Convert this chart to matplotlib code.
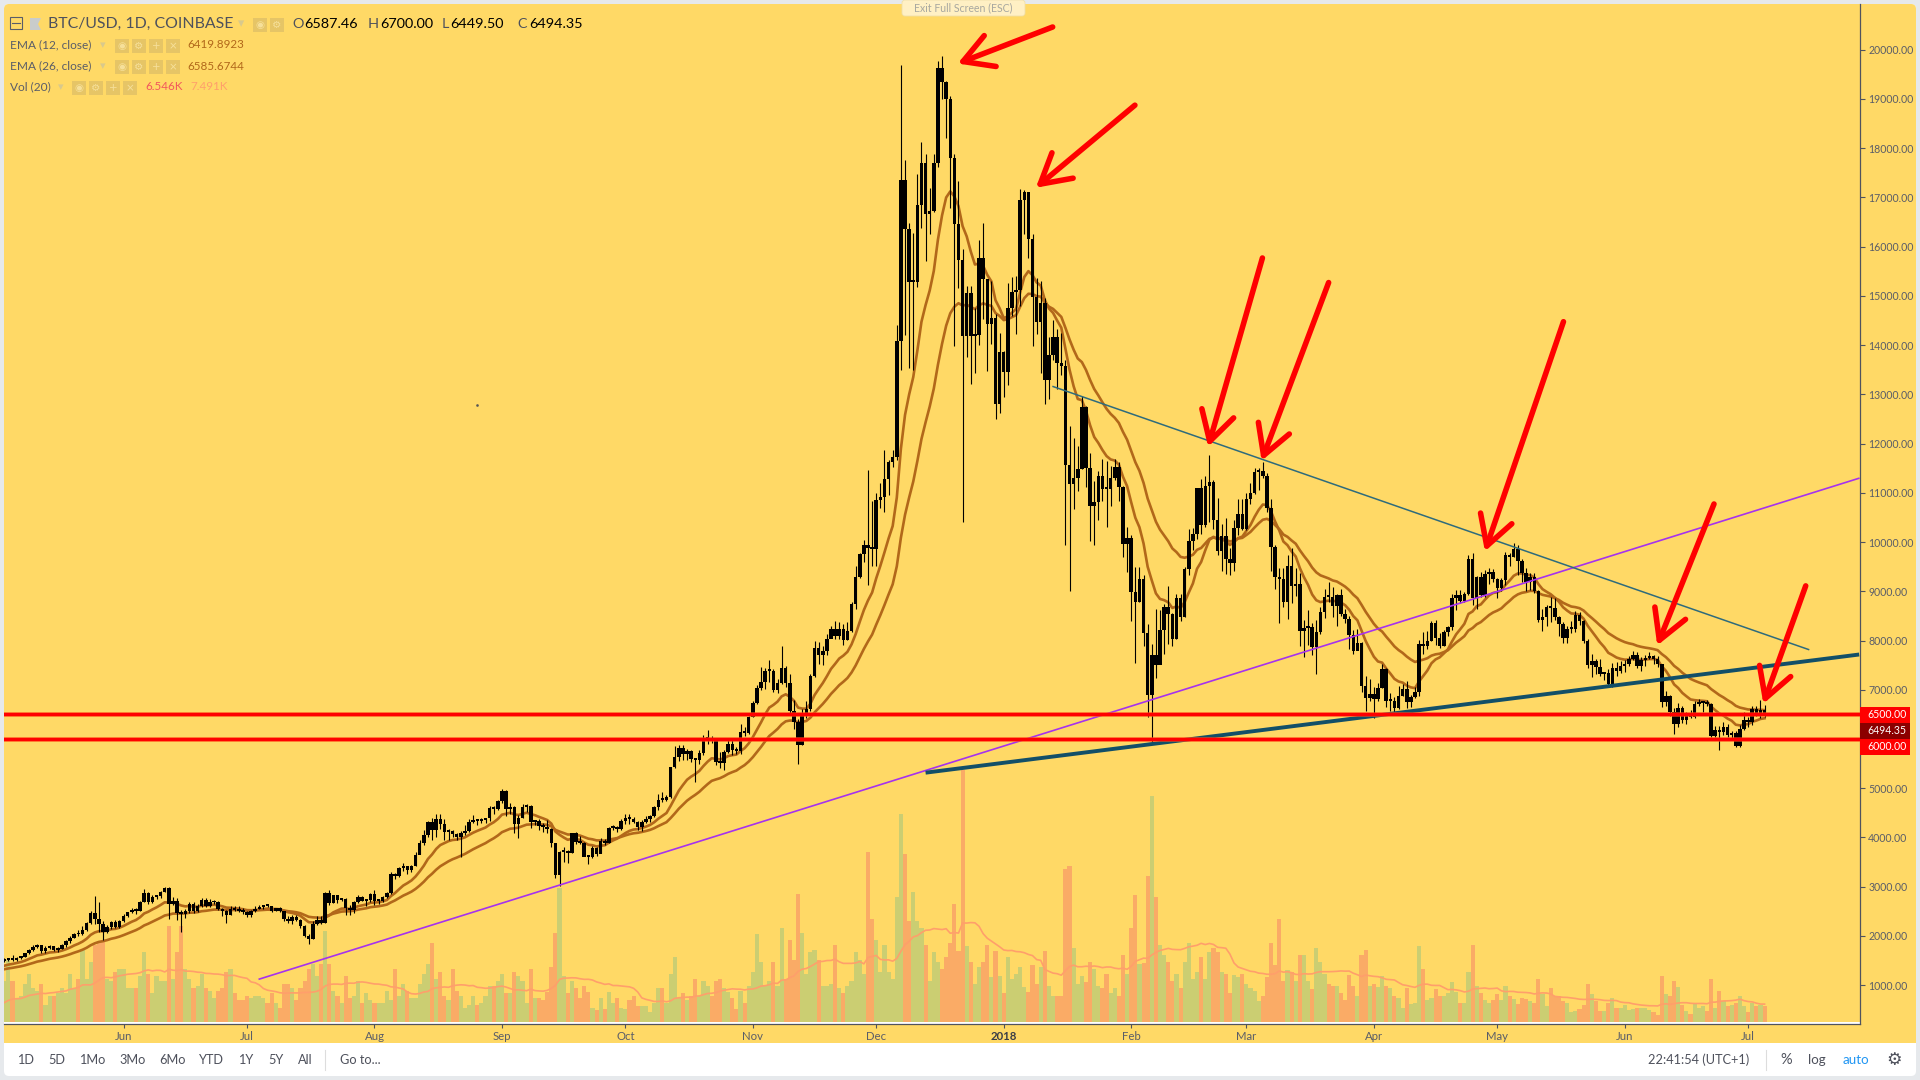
import numpy as np
import pandas as pd
import matplotlib
matplotlib.use("Agg")
import matplotlib.pyplot as plt
import matplotlib.dates as mdates
from matplotlib.patches import Rectangle, FancyBboxPatch, Polygon

plt.rcParams['font.family'] = ['Lato', 'DejaVu Sans']

# daily candles, 2017-05-03 to 2018-07-05, one row per calendar month
close = [
    1510,1540,1510,1560,1570,1650,1720,1770,1810,1700,1760,1790,1710,1740,1810,1890,1960,2040,2030,2120,2260,2460,2340,2240,2080,2190,2280,2190,2300,
    2400,2480,2530,2510,2690,2880,2680,2800,2810,2900,2980,2650,2720,2470,2440,2500,2650,2510,2600,2740,2610,2680,2690,2540,2500,2430,2550,2520,2510,2480,
    2420,2510,2550,2590,2610,2600,2500,2560,2500,2350,2310,2390,2320,2210,1990,1930,2240,2320,2270,2870,2670,2830,2730,2760,2560,2520,2680,2790,2720,2730,2860,
    2720,2720,2800,2870,3250,3220,3380,3430,3340,3430,3650,3880,4060,4320,4160,4380,4280,4110,4140,4080,4000,4090,4140,4320,4350,4340,4350,4390,4590,4570,4740,
    4950,4580,4620,4270,4400,4610,4630,4320,4330,4230,4220,4170,3880,3230,3700,3700,3690,4090,3910,3880,3610,3600,3790,3670,3930,3880,4190,4190,4180,4340,
    4400,4380,4310,4220,4320,4370,4440,4610,4770,4760,4820,5430,5640,5810,5700,5760,5590,5570,5710,6000,6020,5990,5530,5520,5740,5900,5770,5750,6150,6130,6450,
    6740,7030,7160,7390,7390,6990,7130,7450,7140,6570,6340,5870,6510,6600,7280,7850,7700,7790,8040,8240,8090,8230,8020,8200,8750,9280,9760,9930,9880,9860,
    10860,10906,11290,11620,11720,14080,17360,16350,15280,15290,16850,17700,16670,16730,17700,19630,19340,19000,17800,16460,15730,14190,15060,14190,14200,15770,15340,14430,14560,12810,13850,
    13460,14760,15080,15120,16950,17100,16150,14970,14460,14860,13290,13800,14170,13630,13570,11570,11170,11300,11490,12750,11500,10740,10820,11350,11080,11070,11300,11530,11110,9970,10090,
    8990,8780,9240,8160,6890,7700,7510,8220,8690,8530,8030,8870,8480,9460,10030,10170,11100,10350,11130,11220,10440,9810,10130,9660,9580,10290,10560,10260,
    10880,10990,11430,11440,11350,10700,9890,9280,9250,8780,9520,9100,9150,8190,8260,8270,7860,8180,8570,8890,8880,8700,8930,8530,8430,8120,7780,7940,7070,6830,6920,
    6810,7040,7430,6770,6770,6620,6880,7020,6750,6850,6950,7920,7880,8000,8350,8050,7890,8170,8280,8860,8920,8800,8940,9650,8870,9280,8930,9350,9400,9240,
    9070,9220,9740,9700,9850,9620,9370,9180,9300,9010,8410,8480,8690,8670,8480,8340,8060,8230,8230,8520,8400,8000,7510,7580,7460,7330,7350,7110,7450,7380,7480,
    7520,7630,7700,7490,7610,7650,7680,7620,7530,6750,6880,6550,6300,6630,6390,6490,6450,6710,6730,6750,6720,6060,6180,6150,6240,6080,6130,5850,6200,6390,
    6350,6610,6510,6587.46,6494.35,
]
high = [
    1550,1560,1610,1580,1590,1660,1730,1810,1840,1810,1790,1810,1800,1770,1840,1910,2000,2060,2120,2200,2290,2500,2810,2690,2300,2230,2300,2320,2330,
    2450,2490,2570,2560,2700,2950,2890,2830,2840,2920,3000,2990,2790,2780,2520,2540,2680,2680,2640,2770,2780,2750,2740,2700,2570,2530,2600,2600,2600,2560,
    2500,2520,2600,2620,2620,2630,2610,2570,2580,2510,2400,2420,2420,2340,2230,2040,2300,2400,2400,2900,2930,2840,2840,2780,2770,2620,2710,2830,2820,2740,2880,
    2930,2760,2820,2890,3290,3280,3410,3490,3430,3450,3700,3950,4150,4340,4400,4480,4480,4370,4180,4150,4100,4130,4250,4380,4460,4370,4400,4400,4630,4640,4770,
    4980,4970,4710,4640,4450,4670,4690,4660,4360,4380,4290,4350,4190,3880,3730,3800,3750,4100,4120,4020,3900,3650,3820,3800,3980,3970,4210,4250,4240,4370,
    4470,4470,4420,4330,4350,4430,4460,4630,4880,4920,4870,5440,5850,5870,5870,5790,5770,5600,5780,6080,6190,6070,6030,5740,5780,5990,5990,5830,6300,6240,6470,
    6770,7100,7460,7450,7600,7420,7220,7880,7480,7320,6800,6400,6600,6770,7330,7990,7980,7880,8130,8300,8400,8370,8340,8380,8780,9510,9780,10050,11470,10840,
    11000,11200,11870,11660,11870,14410,19680,17750,16480,16270,17470,18120,17880,17200,17880,19770,19870,19360,19060,17880,17340,15950,15200,15200,14760,16140,16480,15340,15300,14630,14250,
    13880,15270,15380,15400,17170,17150,17100,16250,15360,15300,14960,14170,14500,14330,14240,13700,12350,12110,11950,12970,12770,11810,11240,11450,11690,11650,11550,11690,11620,11130,10300,
    10150,9500,9500,9340,8340,7930,8650,8610,8740,9100,8560,8950,8940,9500,10260,10290,11100,11280,11340,11770,11270,10900,10370,10490,9880,10440,10880,10880,
    10990,11200,11500,11500,11630,11400,10880,9950,9470,9480,9730,9880,9480,9380,8420,8620,8350,8420,8680,9050,9180,9080,8950,9050,8650,8500,8220,8240,7980,7270,7220,
    7050,7130,7520,7440,6930,6860,7070,7110,7180,6900,7050,8010,8180,8190,8400,8420,8150,8210,8300,8940,9030,9020,8990,9740,9770,9320,9390,9430,9480,9450,
    9270,9270,9790,9780,9990,9940,9650,9470,9370,9370,9020,8650,8730,8880,8860,8500,8380,8290,8390,8590,8580,8420,8030,7730,7630,7620,7370,7430,7550,7570,7590,
    7610,7680,7780,7760,7670,7700,7770,7700,7680,7530,6980,6900,6630,6730,6680,6540,6590,6780,6810,6780,6790,6730,6260,6260,6340,6300,6170,6170,6280,6540,
    6450,6680,6680,6800,6700,
]
low = [
    1470,1500,1490,1490,1540,1570,1640,1700,1750,1660,1660,1740,1690,1680,1730,1780,1860,1950,1990,2010,2110,2250,2240,2080,1915,2060,2150,2160,2170,
    2290,2390,2460,2440,2510,2680,2650,2660,2760,2780,2890,2340,2620,2320,2090,2360,2470,2470,2490,2580,2590,2590,2650,2520,2400,2270,2420,2500,2480,2440,
    2390,2390,2490,2550,2550,2590,2480,2500,2490,2300,2260,2250,2300,2170,1970,1840,1930,2230,2250,2260,2620,2660,2660,2710,2420,2430,2470,2670,2700,2610,2680,
    2620,2650,2690,2780,2860,3160,3200,3320,3250,3300,3420,3660,3840,4000,3950,4000,4170,3950,3950,4010,3950,3600,4060,4110,4300,4250,4290,4300,4340,4480,4550,
    4700,4430,4480,4100,3990,4390,4520,4200,4250,4150,4110,4090,3800,3180,3010,3500,3490,3680,3860,3870,3620,3470,3590,3620,3680,3850,3880,4150,4110,4160,
    4280,4280,4290,4160,4140,4290,4310,4420,4550,4730,4740,4810,5420,5560,5580,5580,5540,5120,5500,5670,5890,5910,5480,5410,5370,5720,5670,5700,5690,6060,6100,
    6440,6720,7000,7020,7150,6950,6940,7120,7050,6500,6200,5500,5870,6430,6560,7260,7520,7500,7700,8050,8030,8040,7900,8010,8180,8650,9270,9600,9130,9520,
    9520,10700,10600,10950,11530,11660,13500,14200,13540,13490,15180,16380,15700,16250,16700,17610,19000,18200,16790,13980,15160,10400,13750,13200,13440,14000,14530,13470,14020,12500,12630,
    12950,13180,14590,14230,14790,16250,15770,13980,14230,13430,12800,12900,13700,13100,13400,9930,9000,10670,11040,11490,11120,10030,9950,10450,10840,10300,10740,11250,10840,9700,9400,
    8400,7540,8780,7880,6440,5940,7230,7550,7720,7930,7880,8030,8400,8470,9340,9830,10060,10170,10300,10400,10260,9730,9420,9360,9340,9420,10150,10240,
    10250,10770,10980,11050,11300,10600,9410,9050,8360,8680,8430,8760,8900,7880,7670,7900,7700,7330,8140,8450,8790,8480,8290,8500,8360,7830,7730,7820,6960,6560,6780,
    6430,6780,7030,6640,6570,6510,6600,6880,6620,6660,6840,6870,7720,7820,7990,7900,7840,7880,8100,8210,8630,8760,8780,8930,8730,8650,8890,8880,9150,9180,
    8860,9000,9120,9510,9700,9340,9180,9000,9030,8960,8370,8200,8300,8370,8420,8100,7950,7950,8150,8170,8310,7950,7440,7260,7310,7270,7200,7060,7050,7280,7340,
    7360,7480,7600,7440,7380,7490,7630,7520,7460,6650,6670,6460,6110,6250,6320,6310,6420,6430,6680,6550,6680,6050,6040,5770,6080,6040,6010,5830,5830,6190,
    6250,6290,6460,6420,6449.5,
]
# volume in thousands
volume = [
    17,26,17,10,11,16,20,14,13,16,7,11,11,12,14,12,20,14,18,30,18,25,32,33,34,18,17,21,22,
    22,14,14,14,19,29,20,12,19,17,17,40,18,29,40,22,18,14,15,20,14,13,10,13,14,21,22,12,9,9,
    11,10,11,11,10,8,12,8,6,16,16,14,9,14,17,22,24,19,24,38,24,13,11,8,19,10,11,17,8,12,9,
    8,8,8,13,9,22,11,16,13,10,10,16,20,24,33,18,21,11,9,22,13,11,6,7,11,7,8,11,15,15,17,
    20,12,12,21,19,17,8,22,10,10,9,12.5,23,37,56,19,12,17,14,10,15,12.5,6,5,10,5.5,12.5,8,10,6,
    5.5,9,11,6.5,6.5,6.5,4,8,14,14,8,20,27,10,12,9,11,18,11,17,15,11,17,18,14,12.5,10,5.5,13,8,15,
    21,36.5,25,15,17,25,15,39,18,34,26,53.5,37,20,29,30,26,15,15,16,32,14,12,15,17,29,26,20,71,43,
    34,21,32,21,18,52,86.5,70,42,54,42,39,32,17,29,25,22,27,33,49,29.5,105,31.5,25,16,23,25,32,18.6,29.5,19,
    12,27,18,20,23,14.4,12.4,23.6,15.7,23,29.5,15,10.7,11,10.7,63.6,65,30.7,16,19,16.5,25,22,15,14,20,12,14,11,28,20,
    39,53,24,24.4,61,94,52,32,28,25,17,20,14,25,33,18,21,27,18,29,31,29,21,20,12,19.4,18.6,20,
    15.7,14,13,8.6,11,18.6,33,23.6,43,17,21.5,20.7,17,28,28,17,13.6,31,25,20,15.7,15,15,12,9,19.4,15,11,28,30,15,
    15.7,14.4,19,15,14,11,10,6,14,7.4,8,31.5,22,9,10,13.6,11,11,12,16.5,12.4,8,8,21,32,15,12,9,8,9,
    11.5,9,15,11,9.4,7.4,10,9.4,8.6,8,18,11.5,6.5,14,11,11,8.6,8,4,4.4,5.3,7,16,11.5,8.6,4.4,4.4,8,10,6,6,
    7,5,5.3,6,5.7,5.7,5,4,2.8,19,11.5,11,17,14.4,7,4.4,3.2,8,6,6.5,4.4,18,6,13,8.6,6.5,7,8,11,6.5,
    4,8,6.5,7,6.546,
]
# volume of the days before the chart starts, only used to seed the 20 day average
volume_before = [8,6,7,9,5,6,8,7,10,9,6,8,7,9,8,6,7,10,9]
first_open = 1490
ema12_seed = 1375
ema26_seed = 1310

price_ticks = list(range(1000, 21000, 1000))
tick_months = ['2017-06-01','2017-07-01','2017-08-01','2017-09-01','2017-10-01','2017-11-01','2017-12-01',
               '2018-01-01','2018-02-01','2018-03-01','2018-04-01','2018-05-01','2018-06-01','2018-07-01']
tick_labels = ['Jun','Jul','Aug','Sep','Oct','Nov','Dec','2018','Feb','Mar','Apr','May','Jun','Jul']
levels = [6500, 6000]

# trend lines and hand drawn arrows: days after 2017-07-01, price
purple_days, purple_price = [3, 391.9], [1124, 11294]
thin_days, thin_price = [196, 379.7], [13158, 7817]
thick_days, thick_price = [165, 392], [5316, 7716]
arrow_tail_days = [195.9, 215.9, 246.9, 263.0, 320.1, 356.7, 379.0]
arrow_tail_price = [20460, 18872, 15769, 15270, 14475, 10773, 9110]
arrow_tip_days = [172.8, 191.8, 233.7, 246.7, 301.0, 342.9, 368.7]
arrow_tip_price = [19718, 17195, 11935, 11651, 9811, 7899, 6716]


def ema(values, span, seed):
    k = 2 / (span + 1)
    out = []
    prev = seed
    for v in values:
        prev = v * k + prev * (1 - k)
        out.append(prev)
    return out


close = np.array(close, dtype=float)
high = np.array(high, dtype=float)
low = np.array(low, dtype=float)
open_ = np.concatenate([[first_open], close[:-1]])
dates = mdates.date2num(pd.date_range('2017-05-03', periods=len(close)))
vol_ma = pd.Series(volume_before + volume).rolling(20).mean().dropna().values
base_day = mdates.date2num(pd.Timestamp('2017-07-01'))

W, H = 1920, 1080
YELLOW = '#FFD966'
GREY = '#E6E9EC'
AXIS = '#50535E'
TEXT = '#5A5D68'

fig = plt.figure(figsize=(W / 100, H / 100), dpi=100, facecolor=GREY)


def px_axes(left, top, right, bottom, z):
    a = fig.add_axes([left / W, 1 - bottom / H, (right - left) / W, (bottom - top) / H], zorder=z)
    a.patch.set_visible(False)
    return a


# background panels
ui = px_axes(0, 0, W, H, 0)
ui.set_xlim(0, W)
ui.set_ylim(H, 0)
ui.axis('off')
ui.add_patch(FancyBboxPatch((4, 4), 1912, 1072, boxstyle='round,pad=0,rounding_size=5', fc='white', ec='none'))
ui.add_patch(FancyBboxPatch((4, 4), 1912, 60, boxstyle='round,pad=0,rounding_size=5', fc=YELLOW, ec='none'))
ui.add_patch(Rectangle((4, 30), 1912, 1013, fc=YELLOW, ec='none'))
ui.add_patch(Rectangle((4, 1022), 1856, 2, fc='white', ec='none'))

# volume pane
vol_ax = px_axes(4, 4, 1860, 1022, 1)
vol_colors = np.where(close >= open_, '#CBCE72', '#FAAB66')
vol_ax.bar(dates, volume, width=1.0, color=vol_colors, linewidth=0)
vol_ax.plot(dates, vol_ma, color='#FF9F6B', lw=1.2)
vol_ax.set_xlim(base_day - 59.08, base_day + 392.2)
vol_ax.set_ylim(0, 1018 / 2.4)
vol_ax.axis('off')

# price pane
ax = px_axes(4, 4, 1860, 1024, 2)
ax.set_xlim(base_day - 59.08, base_day + 392.2)
ax.set_ylim(212, 20927)
ax.plot(dates, ema(close, 12, ema12_seed), color='#B2681A', lw=1.9, zorder=2)
ax.plot(dates, ema(close, 26, ema26_seed), color='#B2681A', lw=1.9, zorder=2)
ax.vlines(dates, low, high, color='black', lw=0.8, zorder=3)
ax.bar(dates, np.maximum(np.abs(close - open_), 40), bottom=np.minimum(open_, close),
       width=0.85, color='black', linewidth=0, zorder=3)

days = np.array(purple_days) + base_day
ax.plot(days, purple_price, color='#A632EE', lw=1.2, zorder=4)
days = np.array(thin_days) + base_day
ax.plot(days, thin_price, color='#2E6B7C', lw=1.1, zorder=4)
days = np.array(thick_days) + base_day
ax.plot(days, thick_price, color='#124F68', lw=2.8, zorder=4, solid_capstyle='butt')
for lev in levels:
    ax.axhline(lev, color='#FF5A1E', lw=3.6, alpha=0.55, zorder=5)
    ax.axhline(lev, color='#FF0000', lw=2.4, zorder=5)

for i in range(len(arrow_tip_days)):
    ax.annotate('', xy=(base_day + arrow_tip_days[i], arrow_tip_price[i]),
                xytext=(base_day + arrow_tail_days[i], arrow_tail_price[i]),
                arrowprops=dict(arrowstyle='->,head_length=1.5,head_width=0.85', color='#FF0000', lw=4.0,
                                shrinkA=0, shrinkB=0, mutation_scale=14),
                annotation_clip=False, zorder=6)

ax.yaxis.tick_right()
ax.set_yticks(price_ticks)
# the 6000 tag below takes the place of its tick label
ax.set_yticklabels(['' if v == 6000 else f'{v:.2f}' for v in price_ticks], fontsize=7.6, color=TEXT)
ax.set_xticks(mdates.date2num(pd.to_datetime(tick_months)))
ax.set_xticklabels(tick_labels, fontsize=8.2, color=TEXT)
ax.tick_params(axis='y', length=3.5, width=0.8, color=AXIS, pad=2.5)
ax.tick_params(axis='x', length=3, width=0.8, color=AXIS, pad=2)
ax.get_xticklabels()[7].set_fontweight('bold')
ax.get_xticklabels()[7].set_color('#3A3D46')
for side in ['left', 'top']:
    ax.spines[side].set_visible(False)
for side in ['right', 'bottom']:
    ax.spines[side].set_color(AXIS)
    ax.spines[side].set_linewidth(0.9)

# everything on top: legend block, price tags, toolbar
top = px_axes(0, 0, W, H, 3)
top.set_xlim(0, W)
top.set_ylim(H, 0)
top.axis('off')


def label(x, y, s, size=8.2, color=TEXT, ha='left', **kw):
    top.text(x, y, s, fontsize=size, color=color, ha=ha, va='center', **kw)


def buttons(xs, y, marks):
    for x, m in zip(xs, marks):
        top.add_patch(Rectangle((x, y), 14, 14, fc='#E6C566', ec='none'))
        top.text(x + 7, y + 7, m, fontsize=7.5, color='#F6E09A', ha='center', va='center', family='DejaVu Sans')


# collapse box and symbol flag
top.add_patch(Rectangle((10, 17), 12, 12, fc='none', ec='#5A5D68', lw=0.8))
top.plot([12, 20], [23, 23], color='#5A5D68', lw=0.8)
top.add_patch(Polygon([(30, 18), (41, 18), (38, 24), (41, 30), (30, 30)], fc='#C9CCCB', ec='none'))
label(47.5, 24, 'BTC/USD, 1D, COINBASE', size=11.4, color='#4E515C')
label(238, 24, '▾', size=9, color='#D9C98C', family='DejaVu Sans')
buttons([253, 270], 18, ['◉', '⚙'])
label(292.5, 24, 'O', size=10.4, color='#4E515C')
label(304, 24, '6587.46', size=10.4, color='black')
label(368, 24, 'H', size=10.4, color='#4E515C')
label(380, 24, '6700.00', size=10.4, color='black')
label(442, 24, 'L', size=10.4, color='#4E515C')
label(450, 24, '6449.50', size=10.4, color='black')
label(517, 24, 'C', size=10.4, color='#4E515C')
label(529, 24, '6494.35', size=10.4, color='black')

label(9.5, 45, 'EMA (12, close)', size=8.6)
label(100, 45, '▾', size=8, color='#D9C98C', family='DejaVu Sans')
buttons([115, 132, 149, 166], 39, ['◉', '⚙', '+', '×'])
label(187.5, 45, '6419.8923', size=8.4, color='#B2681A')
label(9.5, 66, 'EMA (26, close)', size=8.6)
label(100, 66, '▾', size=8, color='#D9C98C', family='DejaVu Sans')
buttons([115, 132, 149, 166], 60, ['◉', '⚙', '+', '×'])
label(187.5, 66, '6585.6744', size=8.4, color='#B2681A')
label(9.5, 87, 'Vol (20)', size=8.6)
label(58, 87, '▾', size=8, color='#D9C98C', family='DejaVu Sans')
buttons([72, 89, 106, 123], 81, ['◉', '⚙', '+', '×'])
label(145, 87, '6.546K', size=8.4, color='#F2565C')
label(190, 87, '7.491K', size=8.4, color='#FF9F6B')

# exit full screen pill
top.add_patch(FancyBboxPatch((902, 0), 123, 16, boxstyle='round,pad=0,rounding_size=3', fc='#FFF0C4', ec='#F0DFA8', lw=0.6))
label(963.5, 8, 'Exit Full Screen (ESC)', size=7.6, color='#A8A8A0', ha='center')

# stray dot on the chart
top.plot([477], [405], marker='s', ms=0.8, color='#555555')

# price tags
for y0, y1, col, s in [(707, 722.7, '#FF0000', '6500.00'), (722.7, 738.7, '#8B0000', '6494.35'), (738.7, 755, '#FF0000', '6000.00')]:
    top.add_patch(Rectangle((1860, y0), 50, y1 - y0, fc=col, ec='none'))
    label(1867.5, (y0 + y1) / 2, s, size=7.6, color='white')

# toolbar
for x, s in [(17, '1D'), (48, '5D'), (79, '1Mo'), (119, '3Mo'), (159, '6Mo'), (199, 'YTD'), (238, '1Y'), (268, '5Y'), (298, 'All'), (340, 'Go to...')]:
    label(x, 1060, s, size=9.2, color='#4E515C')
top.plot([325, 325], [1050, 1070], color='#DDDDDD', lw=0.8)
top.plot([1766, 1766], [1050, 1070], color='#DDDDDD', lw=0.8)
label(1648, 1060, '22:41:54 (UTC+1)', size=9.2, color='#4E515C')
label(1780, 1060, '%', size=10.5, color='#4E515C')
label(1808, 1060, 'log', size=9.6, color='#4E515C')
label(1843, 1060, 'auto', size=9.6, color='#2196F3')
label(1894, 1060, '⚙', size=12.5, color='#4E515C', ha='center', family='DejaVu Sans')

fig.savefig('out.png', dpi=100, facecolor=GREY)
